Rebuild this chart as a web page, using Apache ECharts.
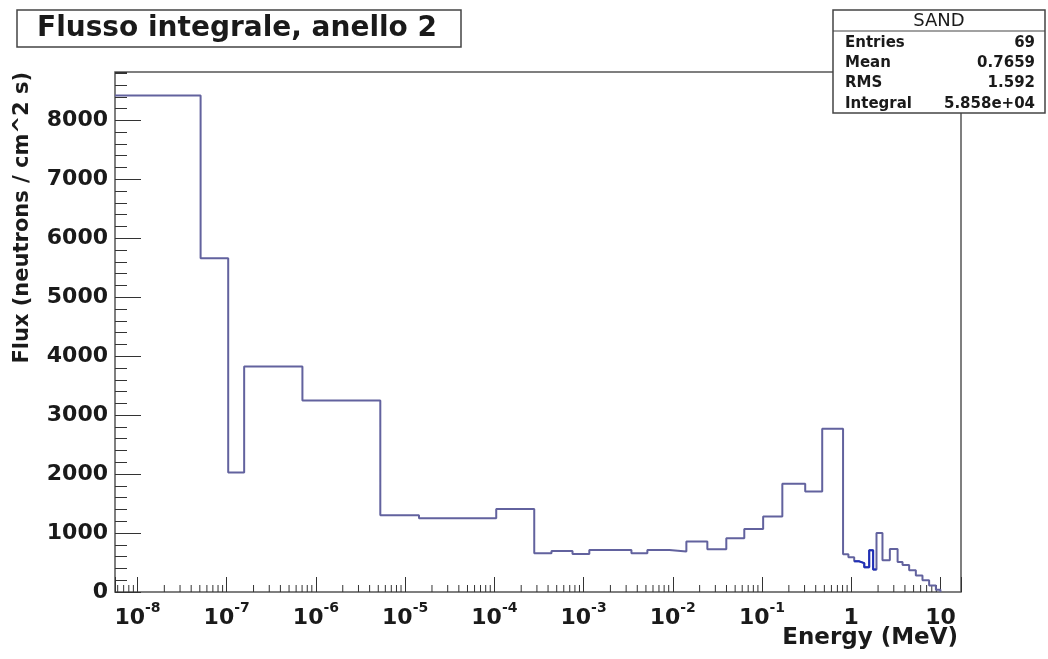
<!DOCTYPE html>
<html><head><meta charset="utf-8">
<script src="https://cdn.jsdelivr.net/npm/echarts@6/dist/echarts.min.js"></script>
<style>html,body{margin:0;padding:0;background:#fff}#c{width:1048px;height:659px}</style>
</head><body><div id="c"></div>
<script>
// ---- data ----
const chartTitle = 'Flusso integrale, anello 2';
const xTitle = 'Energy (MeV)';
const yTitle = 'Flux (neutrons / cm^2 s)';
const statsName = 'SAND';
const statsLabels = ['Entries', 'Mean', 'RMS', 'Integral'];
const statsValues = ['69', '0.7659', '1.592', '5.858e+04'];

// bin edges (MeV) and bin contents
const binEdges = [5.6e-9, 5.1e-8, 1.04e-7, 1.57e-7, 7.06e-7, 5.27e-6, 1.43e-5, 1.05e-4, 2.8e-4,
  4.37e-4, 7.52e-4, 1.16e-3, 3.44e-3, 5.19e-3, 9.17e-3, 1.42e-2, 2.44e-2, 3.98e-2, 6.33e-2,
  0.103, 0.169, 0.305, 0.473, 0.81, 0.93, 1.08, 1.23, 1.40, 1.59, 1.76, 1.92, 2.24, 2.71,
  3.31, 3.76, 4.46, 5.30, 6.29, 7.47, 8.89, 10.0];
const binValues = [8420, 5660, 2025, 3825, 3248, 1302, 1251, 1409,
  657, 696, 645, 713, 657, 713, 685, 855, 725, 911,
  1070, 1279, 1834, 1704, 2767, 640, 590, 520, 490, 420, 710, 380, 1000, 540,
  730, 510, 460, 370, 280, 200, 110, 40];

const xTickExponents = [-8, -7, -6, -5, -4, -3, -2, -1, 0, 1];
const xTickBases = ['10', '10', '10', '10', '10', '10', '10', '10', '1', '10'];
const xTickSups = ['-8', '-7', '-6', '-5', '-4', '-3', '-2', '-1', '', ''];
const xMinorMantissas = [2, 3, 4, 5, 6, 7, 8, 9];
const xMinorDecades = [-9, -8, -7, -6, -5, -4, -3, -2, -1, 0, 1];

const xMin = 5.6e-9, xMax = 17;
const yMax = 8820;

// ---- build ----
const histPoints = binValues.map((v, i) => [binEdges[i], v]);
histPoints.push([binEdges[binEdges.length - 1], 0]);
const blueFrom = 1.08, blueTo = 1.92;
const bluePoints = [];
binValues.forEach((v, i) => {
  if (binEdges[i] >= blueFrom && binEdges[i] < blueTo) bluePoints.push([binEdges[i], v]);
});
bluePoints.push([blueTo, binValues[binEdges.indexOf(blueTo) - 1]]);

const minorTicks = [];
xMinorDecades.forEach(d => xMinorMantissas.forEach(m => {
  const v = m * Math.pow(10, d);
  if (v > xMin && v < xMax) minorTicks.push([v, 0]);
}));

const FF = '"DejaVu Sans", "Liberation Sans", sans-serif';
const chart = echarts.init(document.getElementById('c'), null, {renderer: 'canvas'});

const option = {
  backgroundColor: '#ffffff',
  animation: false,
  grid: {left: 115, right: 87, top: 72, bottom: 67, show: true, borderColor: '#555', borderWidth: 1.5,
         backgroundColor: 'transparent', containLabel: false, outerBoundsMode: 'none'},
  xAxis: [{
    type: 'log', logBase: 10, min: xMin, max: xMax, splitNumber: 10,
    axisLine: {show: false},
    axisTick: {show: true, inside: true, length: 15, lineStyle: {color: '#333', width: 1}},
    splitLine: {show: false},
    axisLabel: {
      margin: 9, color: '#1a1a1a',
      formatter: function (val) {
        const e = Math.log10(val);
        const r = Math.round(e);
        if (Math.abs(e - r) > 1e-6) return '';
        const k = xTickExponents.indexOf(r);
        if (k < 0) return '';
        return xTickSups[k] ? '{b|' + xTickBases[k] + '}{s|' + xTickSups[k] + '}' : '{b|' + xTickBases[k] + '}';
      },
      rich: {
        b: {fontFamily: FF, fontWeight: 'bold', fontSize: 22, lineHeight: 28, verticalAlign: 'bottom', color: '#1a1a1a'},
        s: {fontFamily: FF, fontWeight: 'bold', fontSize: 14, lineHeight: 14, verticalAlign: 'top', color: '#1a1a1a'}
      }
    }
  }],
  yAxis: [{
    type: 'value', min: 0, max: yMax, interval: 1000, position: 'left',
    axisLine: {show: false},
    axisTick: {show: true, inside: true, length: 26, lineStyle: {color: '#333', width: 1}},
    splitLine: {show: false},
    axisLabel: {margin: 7, fontFamily: FF, fontWeight: 'bold', fontSize: 22, color: '#1a1a1a', showMaxLabel: false,
                formatter: function (v) { return v % 1000 === 0 ? String(v) : ''; }}
  }, {
    type: 'value', min: 0, max: yMax, interval: 200, position: 'left', offset: 0,
    axisLine: {show: false},
    axisTick: {show: true, inside: true, length: 12, lineStyle: {color: '#333', width: 1}},
    splitLine: {show: false},
    axisLabel: {show: false}
  }],
  series: [{
    type: 'line', step: 'end', data: histPoints, xAxisIndex: 0, yAxisIndex: 0,
    symbol: 'none', lineStyle: {color: '#62629e', width: 2}, z: 5, silent: true
  }, {
    type: 'line', step: 'end', data: bluePoints, xAxisIndex: 0, yAxisIndex: 0,
    symbol: 'none', lineStyle: {color: '#2030b8', width: 2}, z: 6, silent: true
  }, {
    type: 'custom', xAxisIndex: 0, yAxisIndex: 0, silent: true, clip: false,
    data: minorTicks, encode: {x: 0, y: 1},
    renderItem: function (params, api) {
      const p = api.coord([api.value(0), 0]);
      return {type: 'line', shape: {x1: p[0], y1: p[1], x2: p[0], y2: p[1] - 7},
              style: {stroke: '#333', lineWidth: 1}};
    }
  }],
  graphic: [
    {type: 'rect', z: 100, shape: {x: 17, y: 10, width: 444, height: 37},
     style: {fill: '#fff', stroke: '#444', lineWidth: 1.5}},
    {type: 'text', z: 101, x: 37, y: 29,
     style: {text: chartTitle, font: 'bold 28px ' + FF, fill: '#1a1a1a', align: 'left', verticalAlign: 'middle'}},
    {type: 'rect', z: 100, shape: {x: 833, y: 10, width: 212, height: 103},
     style: {fill: '#fff', stroke: '#444', lineWidth: 1.5}},
    {type: 'line', z: 101, shape: {x1: 833, y1: 31, x2: 1045, y2: 31}, style: {stroke: '#444', lineWidth: 1.2}},
    {type: 'text', z: 101, x: 939, y: 21,
     style: {text: statsName, font: '18px ' + FF, fill: '#1a1a1a', align: 'center', verticalAlign: 'middle'}}
  ].concat(statsLabels.map((t, i) => ({type: 'text', z: 101, x: 845, y: 43 + i * 20.3,
     style: {text: t, font: 'bold 15px ' + FF, fill: '#1a1a1a', align: 'left', verticalAlign: 'middle'}})))
   .concat(statsValues.map((t, i) => ({type: 'text', z: 101, x: 1035, y: 43 + i * 20.3,
     style: {text: t, font: 'bold 15px ' + FF, fill: '#1a1a1a', align: 'right', verticalAlign: 'middle'}})))
   .concat([
    {type: 'text', z: 101, x: 958, y: 638,
     style: {text: xTitle, font: 'bold 23px ' + FF, fill: '#1a1a1a', align: 'right', verticalAlign: 'middle'}},
    {type: 'text', z: 101, x: 23, y: 72, rotation: Math.PI / 2,
     style: {text: yTitle, font: 'bold 21px ' + FF, fill: '#1a1a1a', align: 'right', verticalAlign: 'middle'}}
  ])
};
chart.setOption(option);
</script></body></html>
